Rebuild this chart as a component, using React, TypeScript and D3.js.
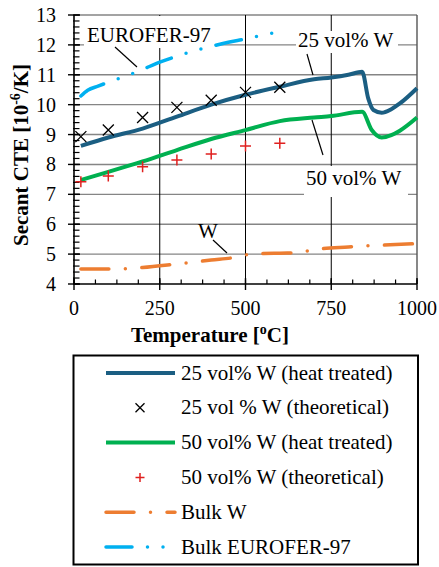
import { useEffect, useRef } from "react";
import * as d3 from "d3";

const width = 439;
const height = 567;

// temperature [°C] and secant CTE [1e-6/K]
const ht25: [number, number][] = [
  [20, 8.62], [100, 8.9], [200, 9.2], [300, 9.6], [400, 10.0], [500, 10.33],
  [600, 10.6], [700, 10.85], [750, 10.91], [800, 11.0], [840, 11.1],
  [858, 10.2], [873, 9.82], [897, 9.73], [925, 9.85], [950, 10.04], [1000, 10.55]
];
const ht50: [number, number][] = [
  [20, 7.48], [100, 7.75], [200, 8.1], [300, 8.48], [400, 8.85], [500, 9.15],
  [600, 9.45], [700, 9.57], [750, 9.62], [840, 9.76], [868, 9.15],
  [897, 8.9], [925, 8.98], [950, 9.13], [1000, 9.57]
];
const theoTemps = [20, 100, 200, 300, 400, 500, 600];
const theo25 = [8.93, 9.15, 9.57, 9.91, 10.15, 10.41, 10.58];
const theo50 = [7.42, 7.61, 7.92, 8.15, 8.35, 8.62, 8.71];
const bulkW: [number, number][] = [
  [20, 4.5], [100, 4.5], [200, 4.55], [300, 4.67], [400, 4.8], [470, 4.89],
  [516, 5.0], [600, 5.03], [650, 5.04], [700, 5.15], [800, 5.24], [900, 5.3], [1000, 5.35]
];
const eurofer: [number, number][] = [
  [20, 10.29], [40, 10.48], [70, 10.62], [100, 10.75], [150, 10.95], [200, 11.18],
  [250, 11.42], [300, 11.62], [350, 11.8], [400, 11.95], [450, 12.09],
  [500, 12.2], [550, 12.33], [600, 12.43]
];

const xTicks = [0, 250, 500, 750, 1000];
const yTicks = [4, 5, 6, 7, 8, 9, 10, 11, 12, 13];
const legendLabels = [
  "25 vol% W (heat treated)",
  "25 vol % W (theoretical)",
  "50 vol% W (heat treated)",
  "50 vol% W (theoretical)",
  "Bulk W",
  "Bulk EUROFER-97"
];

const FONT = "'Liberation Serif', 'Times New Roman', serif";
const C25 = "#1b5e82";
const C50 = "#00b050";
const CRED = "#e0201f";
const CW = "#ed7d31";
const CEU = "#00b0f0";
const DASH_W = "28 16.5 0 16.5";
const DASH_EU = "26 15.5 0 15.5 0 15.5";

function App() {
  const svgRef = useRef(null);

  useEffect(() => {
    const svg = d3.select(svgRef.current);
    svg.selectAll("*").remove();

    const x = d3.scaleLinear().domain([0, 1000]).range([74, 417]);
    const y = d3.scaleLinear().domain([4, 13]).range([284, 15]);

    // grid
    svg.append("g").selectAll("line")
      .data(yTicks.slice(1))
      .join("line")
      .attr("x1", x(0)).attr("x2", x(1000))
      .attr("y1", d => y(d)).attr("y2", d => y(d))
      .attr("stroke", "#858585").attr("stroke-width", 1.4);
    svg.append("line")
      .attr("x1", x(1000)).attr("x2", x(1000)).attr("y1", y(13)).attr("y2", y(4))
      .attr("stroke", "#555").attr("stroke-width", 1.4);
    svg.append("g").selectAll("line")
      .data([250, 500, 750])
      .join("line")
      .attr("x1", d => x(d)).attr("x2", d => x(d))
      .attr("y1", y(13)).attr("y2", y(4))
      .attr("stroke", "#000").attr("stroke-width", 1);

    // label backgrounds
    const boxes = [[84, 16, 132, 32], [296, 31, 102, 22], [304, 166, 104, 31]];
    svg.append("g").selectAll("rect")
      .data(boxes)
      .join("rect")
      .attr("x", d => d[0]).attr("y", d => d[1])
      .attr("width", d => d[2]).attr("height", d => d[3])
      .attr("fill", "#fff");

    // axes
    const ax = svg.append("g").attr("stroke", "#000");
    ax.append("line").attr("x1", x(0)).attr("x2", x(0)).attr("y1", y(13)).attr("y2", y(4)).attr("stroke-width", 1.6);
    ax.append("line").attr("x1", x(0)).attr("x2", x(1000)).attr("y1", y(4)).attr("y2", y(4)).attr("stroke-width", 1.6);
    const yMinor = d3.range(4, 13.001, 0.2);
    ax.selectAll(".ym").data(yMinor).join("line")
      .attr("x1", x(0) - 1).attr("x2", x(0) + 5.5)
      .attr("y1", d => y(d)).attr("y2", d => y(d)).attr("stroke-width", 1.2);
    ax.selectAll(".yM").data(yTicks).join("line")
      .attr("x1", x(0) - 6).attr("x2", x(0) + 6)
      .attr("y1", d => y(d)).attr("y2", d => y(d)).attr("stroke-width", 1.4);
    const xMinor = d3.range(0, 1000.1, 62.5);
    ax.selectAll(".xm").data(xMinor).join("line")
      .attr("x1", d => x(d)).attr("x2", d => x(d))
      .attr("y1", y(4)).attr("y2", y(4) - 4.5).attr("stroke-width", 1.2);
    ax.selectAll(".xM").data(xTicks).join("line")
      .attr("x1", d => x(d)).attr("x2", d => x(d))
      .attr("y1", y(4) - 6).attr("y2", y(4) + 6).attr("stroke-width", 1.4);

    svg.append("g").selectAll("text")
      .data(yTicks).join("text")
      .attr("x", 56).attr("y", d => y(d) + 7)
      .attr("text-anchor", "end")
      .attr("font-family", FONT).attr("font-size", 20)
      .text(d => d);
    svg.append("g").selectAll("text")
      .data(xTicks).join("text")
      .attr("x", d => x(d)).attr("y", 315)
      .attr("text-anchor", "middle")
      .attr("font-family", FONT).attr("font-size", 20)
      .text(d => d);

    const xt = svg.append("text")
      .attr("x", 210).attr("y", 342).attr("text-anchor", "middle")
      .attr("font-family", FONT).attr("font-size", 21).attr("font-weight", "bold");
    xt.append("tspan").text("Temperature [");
    xt.append("tspan").attr("dy", -8).attr("font-size", 14).text("o");
    xt.append("tspan").attr("dy", 8).text("C]");

    const yt = svg.append("text")
      .attr("transform", "translate(28,155) rotate(-90)").attr("text-anchor", "middle")
      .attr("font-family", FONT).attr("font-size", 21).attr("font-weight", "bold");
    yt.append("tspan").text("Secant CTE [10");
    yt.append("tspan").attr("dy", -8).attr("font-size", 14).text("-6");
    yt.append("tspan").attr("dy", 8).text("/K]");

    // series
    const line = d3.line<[number, number]>()
      .x(d => x(d[0])).y(d => y(d[1]))
      .curve(d3.curveMonotoneX);

    svg.append("path").datum(eurofer).attr("d", line)
      .attr("fill", "none").attr("stroke", CEU).attr("stroke-width", 3.5)
      .attr("stroke-linecap", "round").attr("stroke-dasharray", DASH_EU);
    svg.append("path").datum(bulkW).attr("d", line)
      .attr("fill", "none").attr("stroke", CW).attr("stroke-width", 3.5)
      .attr("stroke-linecap", "round").attr("stroke-dasharray", DASH_W);
    svg.append("path").datum(ht50).attr("d", line)
      .attr("fill", "none").attr("stroke", C50).attr("stroke-width", 4)
      .attr("stroke-linejoin", "round");
    svg.append("path").datum(ht25).attr("d", line)
      .attr("fill", "none").attr("stroke", C25).attr("stroke-width", 4)
      .attr("stroke-linejoin", "round");

    const cross = (g, cx: number, cy: number, s: number) => {
      g.append("path")
        .attr("d", `M${cx - s},${cy - s}L${cx + s},${cy + s}M${cx - s},${cy + s}L${cx + s},${cy - s}`)
        .attr("stroke", "#000").attr("stroke-width", 1.3).attr("fill", "none");
    };
    const plus = (g, cx: number, cy: number, s: number) => {
      g.append("path")
        .attr("d", `M${cx - s},${cy}L${cx + s},${cy}M${cx},${cy - s}L${cx},${cy + s}`)
        .attr("stroke", CRED).attr("stroke-width", 1.5).attr("fill", "none");
    };
    const mk = svg.append("g");
    theoTemps.forEach((t, i) => {
      cross(mk, x(t), y(theo25[i]), 5.5);
      plus(mk, x(t), y(theo50[i]), 5.5);
    });

    // annotations
    const ann = [
      { t: "EUROFER-97", x: 87, y: 42, l: [115, 47, 137, 67] },
      { t: "25 vol% W", x: 298, y: 47, l: [307, 54, 313, 75] },
      { t: "50 vol% W", x: 306, y: 185, l: [312, 120, 323, 155] },
      { t: "W", x: 198, y: 238, l: [213, 240, 227, 253] }
    ];
    ann.forEach(a => {
      svg.append("text").attr("x", a.x).attr("y", a.y)
        .attr("font-family", FONT).attr("font-size", 21).text(a.t);
      svg.append("line")
        .attr("x1", a.l[0]).attr("y1", a.l[1]).attr("x2", a.l[2]).attr("y2", a.l[3])
        .attr("stroke", "#000").attr("stroke-width", 1.2);
    });

    // legend
    const lg = svg.append("g");
    lg.append("rect").attr("x", 73.5).attr("y", 355.5).attr("width", 344.5).attr("height", 209)
      .attr("fill", "#fff").attr("stroke", "#000").attr("stroke-width", 2);
    const rowY = d3.scalePoint<number>().domain(d3.range(legendLabels.length)).range([373, 547]);
    legendLabels.forEach((lab, i) => {
      const cy = rowY(i);
      lg.append("text").attr("x", 181).attr("y", cy + 6.5)
        .attr("font-family", FONT).attr("font-size", 21).text(lab);
      if (i === 1) cross(lg, 140, cy, 4.5);
      else if (i === 3) plus(lg, 140, cy, 4.5);
      else {
        const col = [C25, "", C50, "", CW, CEU][i];
        const seg = lg.append("line").attr("x1", 106).attr("x2", 175).attr("y1", cy).attr("y2", cy)
          .attr("stroke", col).attr("stroke-width", i < 4 ? 4 : 3.5);
        if (i === 4) seg.attr("stroke-dasharray", DASH_W).attr("stroke-linecap", "round");
        if (i === 5) seg.attr("stroke-dasharray", DASH_EU).attr("stroke-linecap", "round");
      }
    });
  }, []);

  return (
    <div style={{ position: "absolute", left: 0, top: 0 }}>
      <svg width={width} height={height} ref={svgRef} style={{ display: "block" }}></svg>
    </div>
  );
}

export default App;
